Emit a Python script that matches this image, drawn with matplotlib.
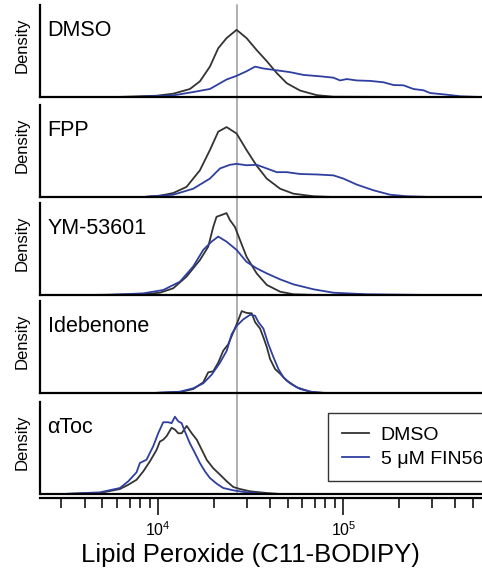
import matplotlib
matplotlib.use("Agg")
import matplotlib.pyplot as plt
import matplotlib.transforms as mtransforms
from matplotlib.ticker import LogLocator, NullFormatter

plt.rcParams["font.family"] = ["Liberation Sans", "DejaVu Sans"]
plt.rcParams["mathtext.default"] = "regular"

# Lipid peroxide intensity (a.u.) vs. relative density
dmso_ctrl_x = [5960, 9800, 12050, 14830, 16790, 19010, 21090, 23390, 26500, 30000,
               34000, 38550, 43650, 49430, 58360, 71800, 88320, 238800]
dmso_ctrl_y = [0, .014, .036, .087, .17, .33, .53, .64, .73, .64,
               .51, .39, .26, .15, .07, .02, .003, 0]
dmso_fin_x = [7480, 12050, 15450, 19010, 23390, 26500, 30000, 33330, 36970, 43650,
              51520, 60810, 74820, 88320, 95940, 104200, 118000, 139300, 164400,
              186300, 211000, 238800, 270500, 294000, 362000, 427500, 548000]
dmso_fin_y = [0, .018, .054, .087, .19, .23, .28, .33, .31, .29,
              .27, .24, .225, .21, .18, .195, .18, .175, .16,
              .13, .127, .087, .073, .043, .025, .008, 0]

fpp_ctrl_x = [8300, 10210, 12050, 14220, 16790, 19010, 21090, 23390, 26500, 30000,
              34000, 38550, 45500, 53700, 68900, 88320]
fpp_ctrl_y = [0, .014, .043, .11, .29, .51, .71, .76, .69, .51,
              .34, .2, .09, .036, .008, 0]
fpp_fin_x = [8300, 12050, 15450, 19010, 21540, 24380, 26500, 30000, 34000, 38550,
             43650, 49430, 58360, 71800, 88320, 100000, 118000, 145200, 178600,
             219800, 294000]
fpp_fin_y = [0, .025, .09, .2, .31, .35, .36, .345, .35, .31,
             .27, .27, .25, .245, .235, .2, .135, .073, .025,
             .008, 0]

ym_ctrl_x = [4100, 8300, 10210, 12050, 14220, 16790, 18620, 19820, 20650, 21980,
             23390, 24380, 25950, 27610, 30000, 34000, 38550, 45500, 53700, 71800]
ym_ctrl_y = [0, .008, .025, .073, .2, .38, .525, .74, .85, .87,
             .89, .815, .74, .6, .415, .235, .11, .036, .008, 0]
ym_fin_x = [5260, 8300, 10640, 13100, 15450, 17500, 19410, 21090, 23390, 26500,
            30000, 34000, 38550, 45500, 53700, 68900, 88320, 133600, 294000]
ym_fin_y = [0, .018, .054, .145, .31, .49, .58, .635, .58, .49,
            .36, .29, .235, .17, .116, .062, .025, .008, 0]

ide_ctrl_x = [9400, 13100, 15450, 17500, 18620, 19820, 21090, 22450, 23890, 24930,
              26550, 28250, 30060, 31990, 33340, 35480, 36980, 38560, 40160, 42760,
              45490, 49450, 55970, 66070, 77990]
ide_ctrl_y = [0, .011, .043, .116, .225, .236, .33, .46, .53, .62,
              .75, .89, .87, .866, .77, .7, .605, .5, .37, .26,
              .21, .134, .062, .014, 0]
ide_fin_x = [9400, 13100, 15450, 17500, 19450, 21560, 23440, 24930, 26550, 28770,
             31340, 33340, 34750, 36980, 39350, 41880, 44570, 47430, 51560, 58370,
             68870, 81280]
ide_fin_y = [0, .014, .051, .105, .2, .33, .46, .64, .73, .8,
             .85, .84, .77, .7, .53, .39, .26, .17, .105, .043,
             .008, 0]

toc_ctrl_x = [3060, 4840, 6210, 6890, 7640, 8300, 9020, 9800, 10210, 10640,
              11110, 11810, 12310, 12830, 13380, 14250, 15170, 16150, 17190, 18290,
              19820, 21560, 23440, 25430, 27670, 31340, 38560, 45490]
toc_ctrl_y = [0, .011, .054, .1, .155, .245, .355, .48, .57, .59,
              .63, .72, .7, .66, .66, .74, .66, .59, .48, .37,
              .28, .21, .138, .076, .054, .029, .011, 0]
toc_fin_x = [3060, 4840, 6210, 6890, 7640, 7960, 8650, 9400, 10000, 10640,
             11320, 11810, 12310, 12830, 13380, 13930, 14830, 15780, 16790, 17870,
             19010, 20690, 22450, 25430, 30060, 38560]
toc_fin_y = [0, .018, .065, .138, .236, .337, .373, .52, .66, .78,
             .78, .77, .84, .79, .77, .68, .55, .446, .337, .247,
             .174, .112, .065, .04, .018, 0]

panel_names = ["DMSO", "FPP", "YM-53601", "Idebenone", "\u03b1Toc"]
series_names = ["DMSO", "5 \u03bcM FIN56"]
threshold = 2.65e4

panels = [(dmso_ctrl_x, dmso_ctrl_y, dmso_fin_x, dmso_fin_y),
          (fpp_ctrl_x, fpp_ctrl_y, fpp_fin_x, fpp_fin_y),
          (ym_ctrl_x, ym_ctrl_y, ym_fin_x, ym_fin_y),
          (ide_ctrl_x, ide_ctrl_y, ide_fin_x, ide_fin_y),
          (toc_ctrl_x, toc_ctrl_y, toc_fin_x, toc_fin_y)]

W, H = 482, 573
fig = plt.figure(figsize=(W / 100, H / 100), dpi=100)

# panel tops in pixels from the top of the image
tops = [5, 105, 203, 301, 402]
hgt = 92
left = 40

ctrl_col = "#333333"
fin_col = "#2f3f9f"

axes = []
for i, (cx, cy, fx, fy) in enumerate(panels):
    ax = fig.add_axes([left / W, 1 - (tops[i] + hgt) / H, 1 - left / W, hgt / H],
                      sharex=axes[0] if axes else None)
    ax.patch.set_visible(False)
    l1, = ax.plot(cx, cy, color=ctrl_col, lw=1.3)
    l2, = ax.plot(fx, fy, color=fin_col, lw=1.3)
    ax.set_xscale("log")
    ax.set_xlim(2.3e3, 5.6e5)
    ax.set_ylim(0, 1)
    for s in ["top", "right"]:
        ax.spines[s].set_visible(False)
    for s in ["left", "bottom"]:
        ax.spines[s].set_linewidth(1.6)
    ax.set_yticks([])
    ax.tick_params(axis="x", which="both", bottom=False, labelbottom=False)
    ax.text(0.017, 0.665, panel_names[i], transform=ax.transAxes,
            fontsize=15.5, va="baseline", ha="left")
    fig.text(22 / W, 1 - (tops[i] + hgt / 2 - 6) / H, "Density", rotation=90,
             fontsize=12, ha="center", va="center")
    axes.append(ax)

# bottom panel carries the log axis, offset below its own baseline
ax = axes[-1]
ax.plot([0, 1], [0, 0], transform=ax.transAxes, color="k", lw=1.6,
        clip_on=False, solid_capstyle="butt")
ax.spines["bottom"].set_position(("outward", 3.2))
ax.tick_params(axis="x", which="both", bottom=True, labelbottom=True,
               direction="out", width=1.1, labelsize=11.5, pad=4)
ax.tick_params(axis="x", which="major", length=12)
ax.tick_params(axis="x", which="minor", length=7)
ax.xaxis.set_major_locator(LogLocator(base=10, numticks=10))
ax.xaxis.set_minor_locator(LogLocator(base=10, subs=range(2, 10), numticks=10))
ax.xaxis.set_minor_formatter(NullFormatter())

# reference line across all panels
trans = mtransforms.blended_transform_factory(ax.transData, fig.transFigure)
fig.add_artist(plt.Line2D([threshold, threshold],
                          [1 - (tops[-1] + hgt) / H, 1 - tops[0] / H],
                          transform=trans, color="#9a9a9a", lw=1.1, zorder=-1))

leg = ax.legend([l1, l2], series_names, loc="upper left",
                bbox_to_anchor=(0.652, 0.885), borderaxespad=0, fontsize=14,
                frameon=True, fancybox=False, handlelength=1.4,
                handletextpad=0.6, borderpad=0.7, labelspacing=0.32)
leg.get_frame().set_edgecolor("k")
leg.get_frame().set_linewidth(1.0)

fig.text(250 / W, 0.019, "Lipid Peroxide (C11-BODIPY)", fontsize=18.5,
         ha="center", va="baseline")

fig.savefig("out.png", dpi=100)
